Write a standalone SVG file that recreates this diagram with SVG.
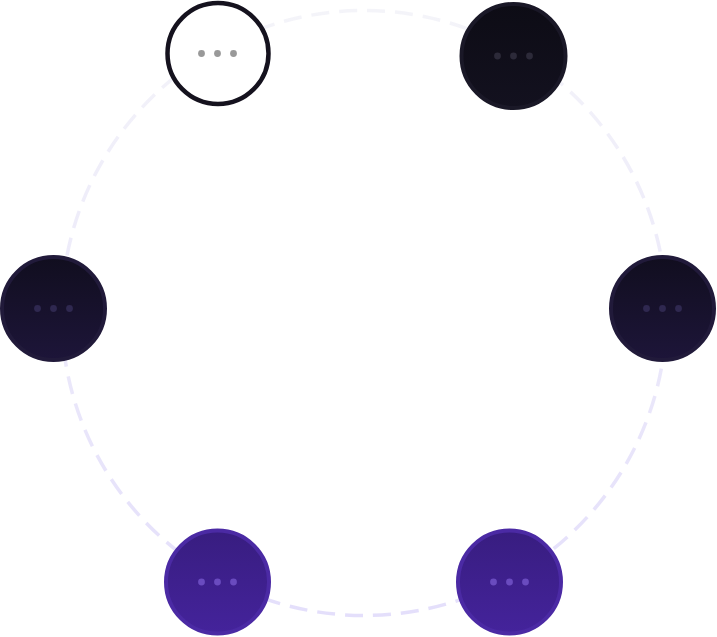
<svg xmlns="http://www.w3.org/2000/svg" width="717" height="637" viewBox="0 0 717 637">
  <defs>
    <linearGradient id="ring" x1="0" y1="0" x2="0" y2="1">
      <stop offset="0" stop-color="#f4f4f9"/>
      <stop offset="1" stop-color="#e4dffb"/>
    </linearGradient>
    <linearGradient id="gDark" x1="0" y1="0" x2="0" y2="1">
      <stop offset="0" stop-color="#0d0c15"/>
      <stop offset="1" stop-color="#13111f"/>
    </linearGradient>
    <linearGradient id="gNavy" x1="0" y1="0" x2="0" y2="1">
      <stop offset="0" stop-color="#110e1f"/>
      <stop offset="1" stop-color="#1d1539"/>
    </linearGradient>
    <linearGradient id="gPurple" x1="0" y1="0" x2="0" y2="1">
      <stop offset="0" stop-color="#381d80"/>
      <stop offset="1" stop-color="#44239b"/>
    </linearGradient>
  </defs>
  <style>
    .conn { fill: none; stroke: url(#ring); stroke-width: 3.5; stroke-dasharray: 18 10; }
    .outline { fill: #ffffff; stroke: #15121e; stroke-width: 4.5; }
    .dark { fill: url(#gDark); stroke: #1a1827; stroke-width: 4; }
    .navy { fill: url(#gNavy); stroke: #211a3a; stroke-width: 4; }
    .purple { fill: url(#gPurple); stroke: #4b2aa4; stroke-width: 4; }
    .d-out { fill: #999999; }
    .d-dark { fill: #2c2a39; }
    .d-navy { fill: #2f2850; }
    .d-purple { fill: #6a4bbf; }
  </style>
  <rect width="717" height="637" fill="#ffffff"/>
  <g id="connectors">
    <circle class="conn" cx="364" cy="313" r="302.5"/>
  </g>
  <g id="node-top-left">
    <circle class="outline" cx="218" cy="53.5" r="50.5"/>
    <circle class="d-out" cx="201.5" cy="53.5" r="3.4"/>
    <circle class="d-out" cx="217.5" cy="53.5" r="3.4"/>
    <circle class="d-out" cx="233.5" cy="53.5" r="3.4"/>
  </g>
  <g id="node-top-right">
    <circle class="dark" cx="513.5" cy="56" r="52"/>
    <circle class="d-dark" cx="497.5" cy="56" r="3.4"/>
    <circle class="d-dark" cx="513.5" cy="56" r="3.4"/>
    <circle class="d-dark" cx="529.5" cy="56" r="3.4"/>
  </g>
  <g id="node-left">
    <circle class="navy" cx="53.5" cy="308.5" r="51.5"/>
    <circle class="d-navy" cx="37.5" cy="308.5" r="3.4"/>
    <circle class="d-navy" cx="53.5" cy="308.5" r="3.4"/>
    <circle class="d-navy" cx="69.5" cy="308.5" r="3.4"/>
  </g>
  <g id="node-right">
    <circle class="navy" cx="662.5" cy="308.5" r="51.5"/>
    <circle class="d-navy" cx="646.5" cy="308.5" r="3.4"/>
    <circle class="d-navy" cx="662.5" cy="308.5" r="3.4"/>
    <circle class="d-navy" cx="678.5" cy="308.5" r="3.4"/>
  </g>
  <g id="node-bottom-left">
    <circle class="purple" cx="217.5" cy="582" r="51.5"/>
    <circle class="d-purple" cx="201.5" cy="582" r="3.4"/>
    <circle class="d-purple" cx="217.5" cy="582" r="3.4"/>
    <circle class="d-purple" cx="233.5" cy="582" r="3.4"/>
  </g>
  <g id="node-bottom-right">
    <circle class="purple" cx="509.5" cy="582" r="51.5"/>
    <circle class="d-purple" cx="493.5" cy="582" r="3.4"/>
    <circle class="d-purple" cx="509.5" cy="582" r="3.4"/>
    <circle class="d-purple" cx="525.5" cy="582" r="3.4"/>
  </g>
</svg>
